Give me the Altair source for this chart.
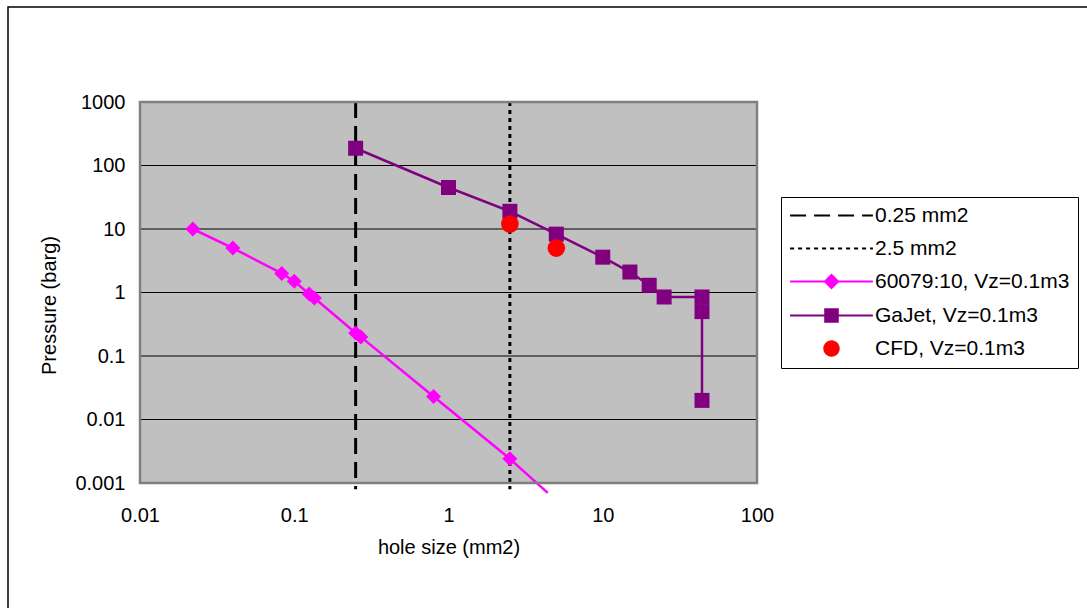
import altair as alt
import pandas as pd

# ---------------- data ----------------
ref_names = ["0.25 mm2", "2.5 mm2"]
ref_x = [0.25, 2.5]
ref_y_span = [1000, 0.0008]

iec_name = "60079:10, Vz=0.1m3"
iec_x = [0.022, 0.04, 0.083, 0.1, 0.125, 0.135, 0.25, 0.27, 0.8, 2.5, 4.4]
iec_y = [10, 5, 2, 1.5, 0.95, 0.82, 0.23, 0.2, 0.023, 0.0024, 0.0007]

gajet_name = "GaJet, Vz=0.1m3"
gajet_x = [0.25, 1, 2.5, 5, 10, 15, 20, 25, 44, 44, 44]
gajet_y = [187, 45, 19, 8.3, 3.6, 2.1, 1.3, 0.85, 0.85, 0.5, 0.02]

cfd_name = "CFD, Vz=0.1m3"
cfd_x = [2.5, 5]
cfd_y = [12, 5]

x_ticks = [0.01, 0.1, 1, 10, 100]
y_ticks = [0.001, 0.01, 0.1, 1, 10, 100, 1000]
grid_values = y_ticks[1:-1]

legend_names = ref_names + [iec_name, gajet_name, cfd_name]

# ---------------- styles ----------------
FONT = "Liberation Sans"
PINK = "#FF00FF"
PURPLE = "#800080"
RED = "#FF0000"
PLOT_BG = "#C0C0C0"
PLOT_BORDER = "#808080"
W, H = 617, 381

legend_fill = ["black", "black", PINK, PURPLE, RED]
legend_stroke = ["black", "black", PINK, PURPLE, RED]
legend_dash = [[16, 8], [4, 4], [1, 0], [1, 0], [1, 0]]
LINE = "M-6.9,0H6.9"
legend_shape = [
    LINE,
    LINE,
    LINE + "M-1.1,0L0,-1.1L1.1,0L0,1.1Z",
    LINE + "M-1.05,-1.05H1.05V1.05H-1.05Z",
    "M-1.2,0A1.2,1.2,0,1,1,1.2,0A1.2,1.2,0,1,1,-1.2,0Z",
]

# ---------------- frames ----------------
def frame(xs, ys):
    return pd.DataFrame({"x": xs, "y": ys, "i": list(range(len(xs)))})

ref_frames = [frame([rx, rx], ref_y_span) for rx in ref_x]
iec_df = frame(iec_x, iec_y)
gajet_df = frame(gajet_x, gajet_y)
cfd_df = frame(cfd_x, cfd_y)
grid_df = pd.DataFrame({"y": grid_values})
one_row = pd.DataFrame({"a": [0]})

X = alt.X(
    "x:Q",
    title="hole size (mm2)",
    scale=alt.Scale(type="log", domain=[x_ticks[0], x_ticks[-1]]),
    axis=alt.Axis(values=x_ticks, format="~g", grid=False, ticks=False, domain=False,
                  labelFlush=False, labelOverlap=False, labelPadding=22, titlePadding=12),
)
Y = alt.Y(
    "y:Q",
    title="Pressure (barg)",
    scale=alt.Scale(type="log", domain=[y_ticks[0], y_ticks[-1]]),
    axis=alt.Axis(values=y_ticks, format="~g", grid=False, ticks=False, domain=False,
                  labelFlush=False, labelOverlap=False, labelPadding=15,
                  titlePadding=15, titleY=203),
)

layers = []
# plot-area background
layers.append(
    alt.Chart(one_row).mark_rect(color=PLOT_BG, clip=False)
    .encode(x=alt.value(0), x2=alt.value(W), y=alt.value(0), y2=alt.value(H))
)
# horizontal gridlines through the y scale
layers.append(
    alt.Chart(grid_df).mark_rule(color="black", strokeWidth=1).encode(y=Y)
)
for df, dash in zip(ref_frames, legend_dash[:2]):
    layers.append(
        alt.Chart(df).mark_line(color="black", strokeWidth=3, strokeDash=dash, clip=False)
        .encode(x=X, y=Y, order="i:Q")
    )

layers.append(
    alt.Chart(iec_df).mark_line(color=PINK, strokeWidth=2.5, clip=False)
    .encode(x=X, y=Y, order="i:Q")
)
layers.append(
    alt.Chart(iec_df).mark_point(shape="diamond", filled=True, size=225, color=PINK,
                                 opacity=1, clip=True)
    .encode(x=X, y=Y)
)
layers.append(
    alt.Chart(gajet_df).mark_line(color=PURPLE, strokeWidth=2.5, clip=False)
    .encode(x=X, y=Y, order="i:Q")
)
layers.append(
    alt.Chart(gajet_df).mark_point(shape="square", filled=True, size=225, color=PURPLE,
                                   opacity=1, clip=True)
    .encode(x=X, y=Y)
)
layers.append(
    alt.Chart(cfd_df).mark_point(shape="circle", filled=True, size=310, color=RED,
                                 opacity=1, clip=True)
    .encode(x=X, y=Y)
)
# plot-area border
layers.append(
    alt.Chart(one_row).mark_rect(fillOpacity=0, stroke=PLOT_BORDER, strokeWidth=2.5, clip=False)
    .encode(x=alt.value(0), x2=alt.value(W), y=alt.value(0), y2=alt.value(H))
)

# legend (drawn by Vega-Lite's own legend from the series names)
leg = alt.Legend(
    title=None, orient="none", legendX=641, legendY=95, direction="vertical",
    strokeColor="black", fillColor="white", padding=8, symbolSize=144,
    symbolStrokeWidth=2, symbolOffset=32, labelOffset=33, labelFontSize=21,
    labelFont=FONT, labelColor="black", rowPadding=11, labelLimit=400,
    symbolOpacity=1,
)
leg_df = pd.DataFrame({"series": legend_names})
layers.append(
    alt.Chart(leg_df).mark_point(filled=True, opacity=1, strokeWidth=2)
    .transform_filter("false")
    .encode(
        fill=alt.Fill("series:N", scale=alt.Scale(domain=legend_names, range=legend_fill), legend=leg),
        stroke=alt.Stroke("series:N", scale=alt.Scale(domain=legend_names, range=legend_stroke), legend=leg),
        shape=alt.Shape("series:N", scale=alt.Scale(domain=legend_names, range=legend_shape), legend=leg),
        strokeDash=alt.StrokeDash("series:N", scale=alt.Scale(domain=legend_names, range=legend_dash), legend=leg),
    )
)

# outer chart frame
layers.append(
    alt.Chart(one_row).mark_rect(fillOpacity=0, stroke="black", strokeWidth=1.5, clip=False)
    .encode(x=alt.value(-132), x2=alt.value(1200), y=alt.value(-95), y2=alt.value(800))
)

chart = (
    alt.layer(*layers)
    .properties(
        width=W, height=H,
        autosize=alt.AutoSizeParams(type="none"),
        padding={"left": 140, "top": 102, "right": 330, "bottom": 125},
        background="white",
    )
    .configure_view(stroke="transparent")
    .configure_axis(labelFont=FONT, titleFont=FONT, labelFontSize=20, titleFontSize=20,
                    titleFontWeight="normal", labelColor="black", titleColor="black")
    .configure_legend(labelFont=FONT)
)

chart.save("out.html", embed_options={"renderer": "svg", "actions": False})
